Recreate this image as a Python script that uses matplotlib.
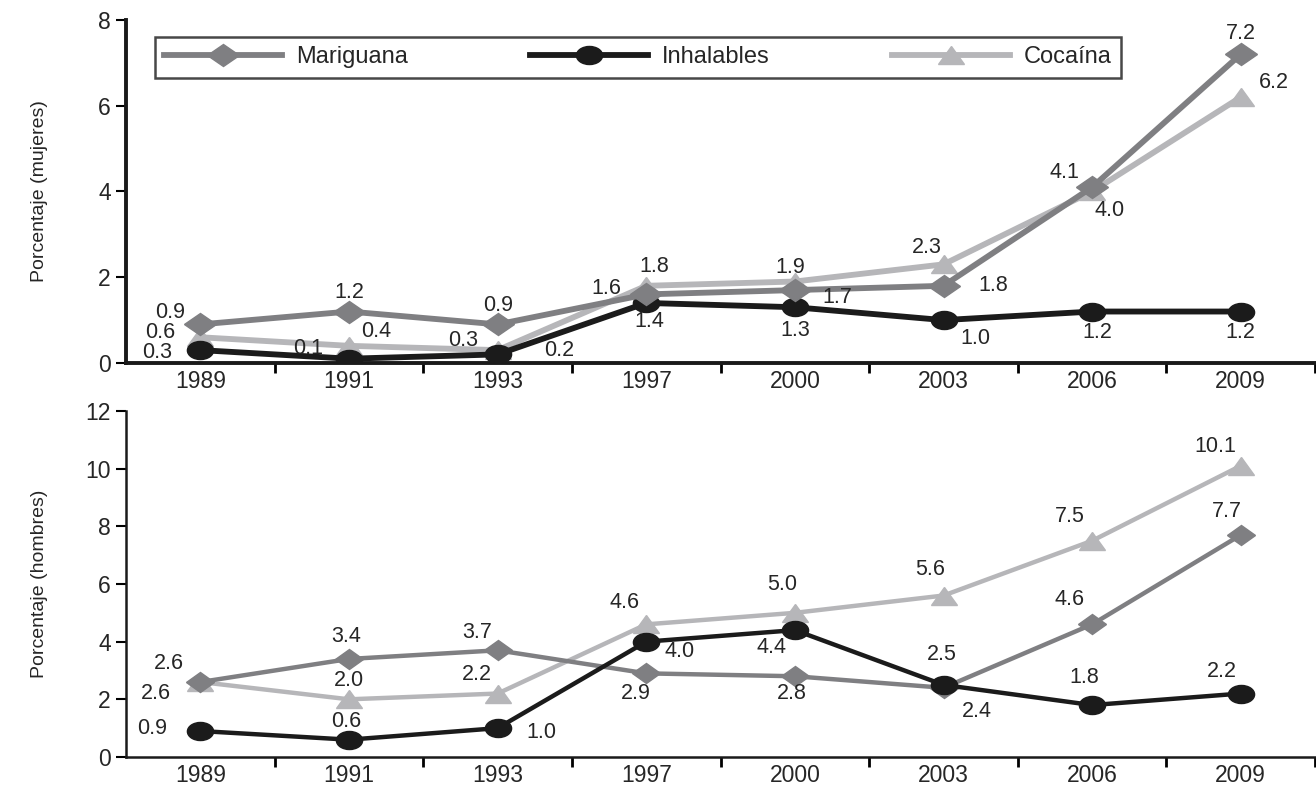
import matplotlib
matplotlib.use("Agg")
import matplotlib.pyplot as plt
from matplotlib.markers import MarkerStyle
from matplotlib.transforms import Affine2D

# categories
years = ['1989', '1991', '1993', '1997', '2000', '2003', '2006', '2009']

# mujeres (top panel)
mujeres_mariguana = [0.9, 1.2, 0.9, 1.6, 1.7, 1.8, 4.1, 7.2]
mujeres_inhalables = [0.3, 0.1, 0.2, 1.4, 1.3, 1.0, 1.2, 1.2]
mujeres_cocaina = [0.6, 0.4, 0.3, 1.8, 1.9, 2.3, 4.0, 6.2]

# hombres (bottom panel)
hombres_mariguana = [2.6, 3.4, 3.7, 2.9, 2.8, 2.4, 4.6, 7.7]
hombres_inhalables = [0.9, 0.6, 1.0, 4.0, 4.4, 2.5, 1.8, 2.2]
hombres_cocaina = [2.6, 2.0, 2.2, 4.6, 5.0, 5.6, 7.5, 10.1]

# label offsets in pixels (dx, dy), one per point
top_off_m = [(-30, 12), (0, 19), (0, 19), (-40, 6), (42, -7), (50, 0), (-28, 15), (0, 21)]
top_off_i = [(-43, -2), (-41, 10), (62, 4), (3, -19), (0, -23), (32, -18), (5, -21), (0, -21)]
top_off_c = [(-40, 5), (27, 14), (-35, 10), (8, 19), (-5, 14), (-17, 17), (17, -19), (33, 15)]
bot_off_m = [(-32, 19), (-3, 22), (-20, 18), (-10, -20), (-3, -17), (33, -24), (-23, 25), (-14, 23)]
bot_off_i = [(-48, 3), (-3, 18), (44, -4), (33, -10), (-23, -17), (-2, 30), (-8, 28), (-19, 22)]
bot_off_c = [(-45, -11), (0, 19), (-21, 19), (-22, 22), (-13, 28), (-13, 26), (-22, 24), (-25, 19)]

plt.rcParams['font.family'] = ['Liberation Sans', 'DejaVu Sans']

col_m = '#7f7f82'
col_i = '#1b1b1b'
col_c = '#b6b6b9'
txt_col = '#262626'

stretch = Affine2D().scale(1.45, 1.0)
mk_m = MarkerStyle('D', transform=stretch)
mk_i = MarkerStyle('o', transform=stretch)
mk_c = MarkerStyle('^', transform=stretch)

fig = plt.figure(figsize=(13.16, 7.85), dpi=100)
ax1 = fig.add_axes([0.0958, 0.5376, 0.9035, 0.437])
ax2 = fig.add_axes([0.0958, 0.0357, 0.9035, 0.4407])

x = list(range(len(years)))


def draw_panel(ax, m, i, c, offs, lw, spine_w, ymax, ylabel, zorders, ms_m):
    specs = [
        ('Mariguana', m, col_m, mk_m, ms_m, offs[0], zorders[0]),
        ('Inhalables', i, col_i, mk_i, 13, offs[1], zorders[1]),
        ('Cocaína', c, col_c, mk_c, 13, offs[2], zorders[2]),
    ]
    handles = {}
    for name, vals, col, mk, ms, off, z in specs:
        ln, = ax.plot(x, vals, color=col, lw=lw, marker=mk, markersize=ms,
                      label=name, zorder=z)
        handles[name] = ln
        for xi, v, (dx, dy) in zip(x, vals, off):
            ax.annotate(f'{v:.1f}', (xi, v), xytext=(dx, dy),
                        textcoords='offset pixels', ha='center', va='center',
                        fontsize=15.5, color=txt_col, zorder=6)
    ax.set_xlim(-0.5, 7.5)
    ax.set_ylim(0, ymax)
    ax.set_yticks(range(0, ymax + 1, 2))
    ax.set_xticks(x)
    ax.set_xticklabels(years)
    ax.set_xticks([k + 0.5 for k in x], minor=True)
    ax.tick_params(axis='x', which='major', length=0, pad=5,
                   labelsize=16.5, labelcolor=txt_col)
    ax.tick_params(axis='x', which='minor', length=7, width=2, direction='out')
    ax.tick_params(axis='y', length=7, width=1.5, pad=4,
                   labelsize=16.5, labelcolor=txt_col)
    for s in ['top', 'right']:
        ax.spines[s].set_visible(False)
    for s in ['left', 'bottom']:
        ax.spines[s].set_linewidth(spine_w)
        ax.spines[s].set_color('#1a1a1a')
    ax.set_ylabel(ylabel, fontsize=14, color=txt_col)
    ax.yaxis.set_label_coords(-0.066, 0.5)
    return handles


h = draw_panel(ax1, mujeres_mariguana, mujeres_inhalables, mujeres_cocaina,
               (top_off_m, top_off_i, top_off_c), 4.2, 2.8, 8,
               'Porcentaje (mujeres)', (4, 3, 2), 11)
draw_panel(ax2, hombres_mariguana, hombres_inhalables, hombres_cocaina,
           (bot_off_m, bot_off_i, bot_off_c), 3.2, 1.8, 12,
           'Porcentaje (hombres)', (3, 4, 2), 10)

leg = ax1.legend(handles=[h['Mariguana'], h['Inhalables'], h['Cocaína']],
                 ncol=3, loc='lower left', mode='expand',
                 bbox_to_anchor=(0.024, 0.831, 0.813, 0.125),
                 fontsize=17, handlelength=5.0, handletextpad=0.6,
                 frameon=True, fancybox=False, borderaxespad=0.0,
                 borderpad=0.4)
leg.get_frame().set_edgecolor('#1a1a1a')
leg.get_frame().set_linewidth(1.8)
for t in leg.get_texts():
    t.set_color(txt_col)

fig.savefig('out.png', dpi=100)
